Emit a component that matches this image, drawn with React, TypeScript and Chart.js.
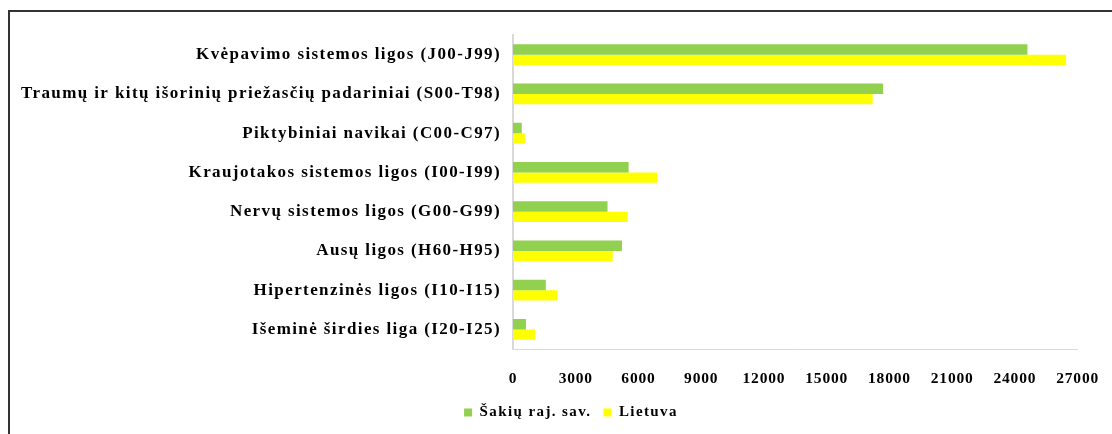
import React, { useEffect, useRef } from "react";
import { Chart, registerables } from "chart.js";

Chart.register(...registerables);

const categories = [
  "Kvėpavimo sistemos ligos (J00-J99)",
  "Traumų ir kitų išorinių priežasčių padariniai (S00-T98)",
  "Piktybiniai navikai (C00-C97)",
  "Kraujotakos sistemos ligos (I00-I99)",
  "Nervų sistemos ligos (G00-G99)",
  "Ausų ligos (H60-H95)",
  "Hipertenzinės ligos (I10-I15)",
  "Išeminė širdies liga (I20-I25)",
];

const sakiuValues = [24600, 17700, 420, 5530, 4520, 5210, 1570, 620];
const lietuvaValues = [26450, 17200, 570, 6900, 5490, 4770, 2130, 1050];

const xTicks = [0, 3000, 6000, 9000, 12000, 15000, 18000, 21000, 24000, 27000];

const FONT = "'Liberation Serif', 'Times New Roman', serif";

// widen text a bit (the reference text is horizontally stretched)
const spacingFor = (font: string) => {
  const m = /(\d+(?:\.\d+)?)px/.exec(font || "");
  const s = m ? parseFloat(m[1]) : 0;
  if (s >= 17) return 1.4;
  if (s === 15.5) return 0.8;
  return 1.4;
};

const letterSpacingPlugin = {
  id: "letterSpacingPatch",
  beforeInit(chart: any) {
    const ctx: any = chart.ctx;
    if (ctx.__patched) return;
    ctx.__patched = true;
    const origFill = ctx.fillText;
    const origMeasure = ctx.measureText;
    ctx.fillText = function (...args: any[]) {
      const prev = this.letterSpacing;
      this.letterSpacing = spacingFor(this.font) + "px";
      origFill.apply(this, args);
      this.letterSpacing = prev;
    };
    ctx.measureText = function (...args: any[]) {
      const prev = this.letterSpacing;
      this.letterSpacing = spacingFor(this.font) + "px";
      const r = origMeasure.apply(this, args);
      this.letterSpacing = prev;
      return r;
    };
  },
  afterLayout(chart: any) {
    const lg = chart.legend;
    if (lg) {
      lg.left += 31;
      lg.right += 31;
    }
  },
};

export default function App() {
  const ref = useRef<HTMLCanvasElement>(null);

  useEffect(() => {
    if (!ref.current) return;
    const chart = new Chart(ref.current, {
      type: "bar",
      data: {
        labels: categories,
        datasets: [
          {
            label: "Šakių raj. sav.",
            data: sakiuValues,
            backgroundColor: "#92D050",
            borderWidth: 0,
            barPercentage: 1,
            categoryPercentage: 0.53,
          },
          {
            label: "Lietuva",
            data: lietuvaValues,
            backgroundColor: "#FFFF00",
            borderWidth: 0,
            barPercentage: 1,
            categoryPercentage: 0.53,
          },
        ],
      },
      plugins: [letterSpacingPlugin],
      options: {
        indexAxis: "y",
        animation: false,
        responsive: false,
        maintainAspectRatio: false,
        layout: { padding: { left: 0, right: 32, top: 35, bottom: 4 } },
        plugins: {
          tooltip: { enabled: false },
          legend: {
            position: "bottom",
            labels: {
              boxWidth: 8,
              boxHeight: 8,
              padding: 12,
              color: "#000",
              font: { family: FONT, size: 15, weight: "bold" },
            },
          },
        },
        scales: {
          x: {
            min: 0,
            max: 27000,
            afterBuildTicks: (scale: any) => {
              scale.ticks = xTicks.map((v) => ({ value: v }));
            },
            afterFit: (scale: any) => {
              scale.height = 44;
            },
            grid: { display: false },
            border: { display: true, color: "#d9d9d9", width: 1 },
            ticks: {
              color: "#000",
              padding: 13,
              maxRotation: 0,
              autoSkip: false,
              callback: (v: any) => String(v),
              font: { family: FONT, size: 15.5, weight: "bold" },
            },
          },
          y: {
            afterFit: (scale: any) => {
              scale.width = 513;
            },
            grid: { display: false },
            border: { display: true, color: "#d9d9d9", width: 2 },
            ticks: {
              color: "#000",
              padding: 4,
              autoSkip: false,
              font: { family: FONT, size: 17, weight: "bold" },
            },
          },
        },
      },
    });
    return () => chart.destroy();
  }, []);

  return (
    <div
      style={{
        position: "fixed",
        left: 0,
        top: 0,
        width: 1112,
        height: 434,
        background: "#fff",
        overflow: "hidden",
      }}
    >
      <div
        style={{
          position: "absolute",
          left: 8,
          top: 10,
          width: 1300,
          height: 600,
          borderLeft: "2px solid #333",
          borderTop: "2px solid #333",
        }}
      />
      <canvas
        ref={ref}
        width={1112}
        height={434}
        style={{ position: "absolute", left: 0, top: 0, width: 1112, height: 434 }}
      />
    </div>
  );
}
